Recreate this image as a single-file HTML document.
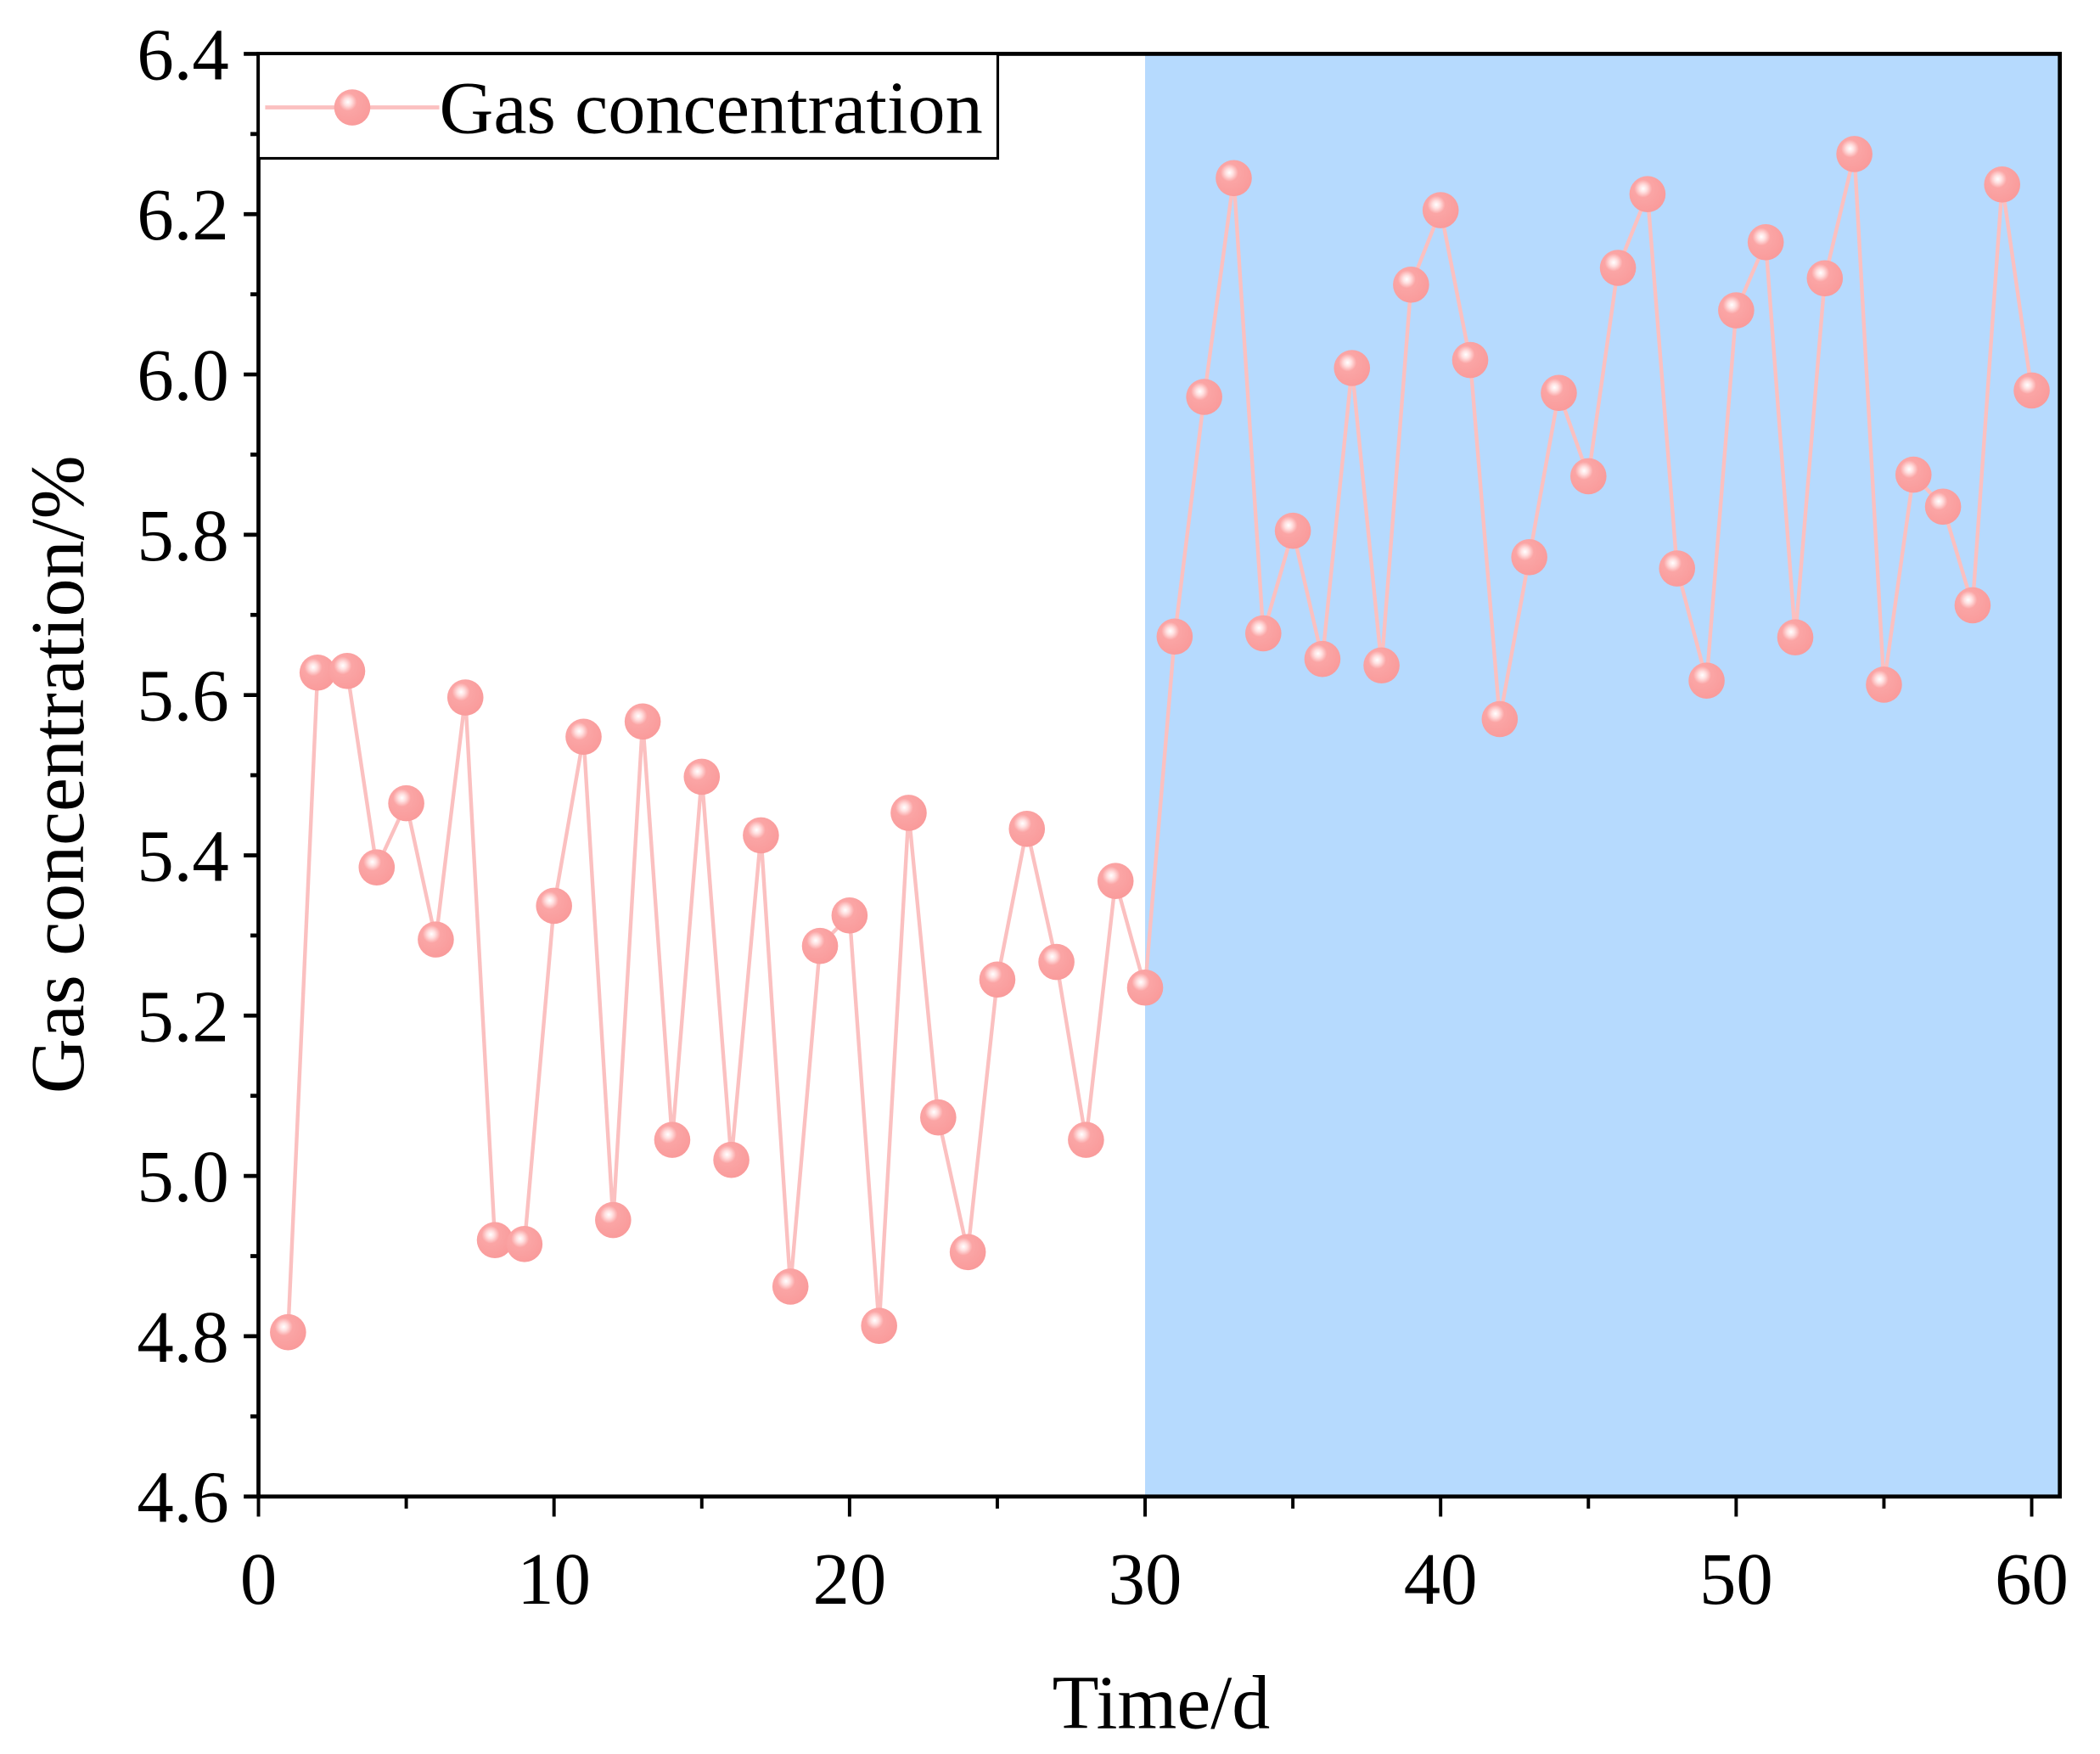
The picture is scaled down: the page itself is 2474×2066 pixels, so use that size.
<!DOCTYPE html>
<html><head><meta charset="utf-8"><style>
html,body{margin:0;padding:0;background:#fff;}
svg{display:block;}
text{font-family:"Liberation Serif",serif;fill:#000;}
</style></head><body>
<svg id="chart" width="2474" height="2066" viewBox="0 0 1568 1309" xmlns="http://www.w3.org/2000/svg">
<defs>
<radialGradient id="ball" cx="0.38" cy="0.35" r="0.7">
<stop offset="0" stop-color="#ffffff"/>
<stop offset="0.15" stop-color="#ffe0e0"/>
<stop offset="0.35" stop-color="#fba5a5"/>
<stop offset="1" stop-color="#f99a9a"/>
</radialGradient>
</defs>
<g id="plot"></g>
</svg>
<script>
const days = [1,2,3,4,5,6,7,8,9,10,11,12,13,14,15,16,17,18,19,20,21,22,23,24,25,26,27,28,29,30,31,32,33,34,35,36,37,38,39,40,41,42,43,44,45,46,47,48,49,50,51,52,53,54,55,56,57,58,59,60];
const concentration = [4.805,5.628,5.630,5.385,5.465,5.295,5.597,4.920,4.915,5.337,5.548,4.945,5.567,5.045,5.498,5.020,5.425,4.862,5.287,5.325,4.813,5.453,5.073,4.905,5.245,5.433,5.267,5.045,5.368,5.235,5.673,5.972,6.245,5.677,5.805,5.645,6.008,5.637,6.112,6.205,6.018,5.570,5.772,5.977,5.873,6.133,6.225,5.758,5.618,6.080,6.165,5.672,6.120,6.275,5.613,5.875,5.835,5.712,6.237,5.980];
const xTicks = [0,10,20,30,40,50,60];
const yTicks = [4.6,4.8,5.0,5.2,5.4,5.6,5.8,6.0,6.2,6.4];
const shadeStart = 30;

const NS="http://www.w3.org/2000/svg";
const g=document.getElementById('plot');
const L=193,R=1538,T=40,B=1117;
const xs=v=>L+v*(1517-193)/60;
const ys=v=>B-(v-4.6)*(B-T)/1.8;
function mk(tag,attrs,parent){const e=document.createElementNS(NS,tag);for(const k in attrs)e.setAttribute(k,attrs[k]);(parent||g).appendChild(e);return e;}

const shade=mk('rect',{x:xs(shadeStart),y:T,width:R-xs(shadeStart),height:B-T,fill:'#b6dafe'});



let d='';
days.forEach((x,i)=>{d+=(i?'L':'M')+xs(x)+' '+ys(concentration[i]);});
const line=mk('path',{d:d,fill:'none',stroke:'#fbc0c0','stroke-width':2.8});



days.forEach((x,i)=>{
  const c=mk('circle',{cx:xs(x),cy:ys(concentration[i]),r:13.5,fill:'url(#ball)'});
  
  
});

const frame=mk('rect',{x:L,y:T,width:R-L,height:B-T,fill:'none',stroke:'#000','stroke-width':3});



yTicks.forEach(v=>{
  const y=ys(v);
  const t=mk('line',{x1:L-11,x2:L,y1:y,y2:y,stroke:'#000','stroke-width':3});
  
  
  const lb=mk('text',{x:L-22,y:y+19,'text-anchor':'end','font-size':55});
  lb.textContent=v.toFixed(1);
  
  
});
for(let i=0;i<yTicks.length-1;i++){
  const y=ys((yTicks[i]+yTicks[i+1])/2);
  const t=mk('line',{x1:L-6,x2:L,y1:y,y2:y,stroke:'#000','stroke-width':3});
  
  
}
xTicks.forEach(v=>{
  const x=xs(v);
  const t=mk('line',{x1:x,x2:x,y1:B,y2:B+15,stroke:'#000','stroke-width':2.5});
  
  
  const lb=mk('text',{x:x,y:B+80,'text-anchor':'middle','font-size':55});
  lb.textContent=v;
  
  
});
for(let i=0;i<xTicks.length-1;i++){
  const x=xs((xTicks[i]+xTicks[i+1])/2);
  const t=mk('line',{x1:x,x2:x,y1:B,y2:B+9,stroke:'#000','stroke-width':2.5});
  
  
}
const xt=mk('text',{x:867,y:1290,'text-anchor':'middle','font-size':57});
xt.textContent='Time/d';


const yt=mk('text',{x:0,y:0,'text-anchor':'middle','font-size':57,transform:'translate(62,578) rotate(-90)'});
yt.textContent='Gas concentration/%';



const lg=mk('g',{});


mk('rect',{x:L,y:T,width:552,height:78,fill:'#fff',stroke:'#000','stroke-width':2},lg);
mk('line',{x1:198,x2:328,y1:80,y2:80,stroke:'#fbc0c0','stroke-width':3},lg);
mk('circle',{cx:263,cy:80,r:13.5,fill:'url(#ball)'},lg);
const lt=mk('text',{x:328,y:99,'font-size':56},lg);
lt.textContent='Gas concentration';


</script>
</body></html>
